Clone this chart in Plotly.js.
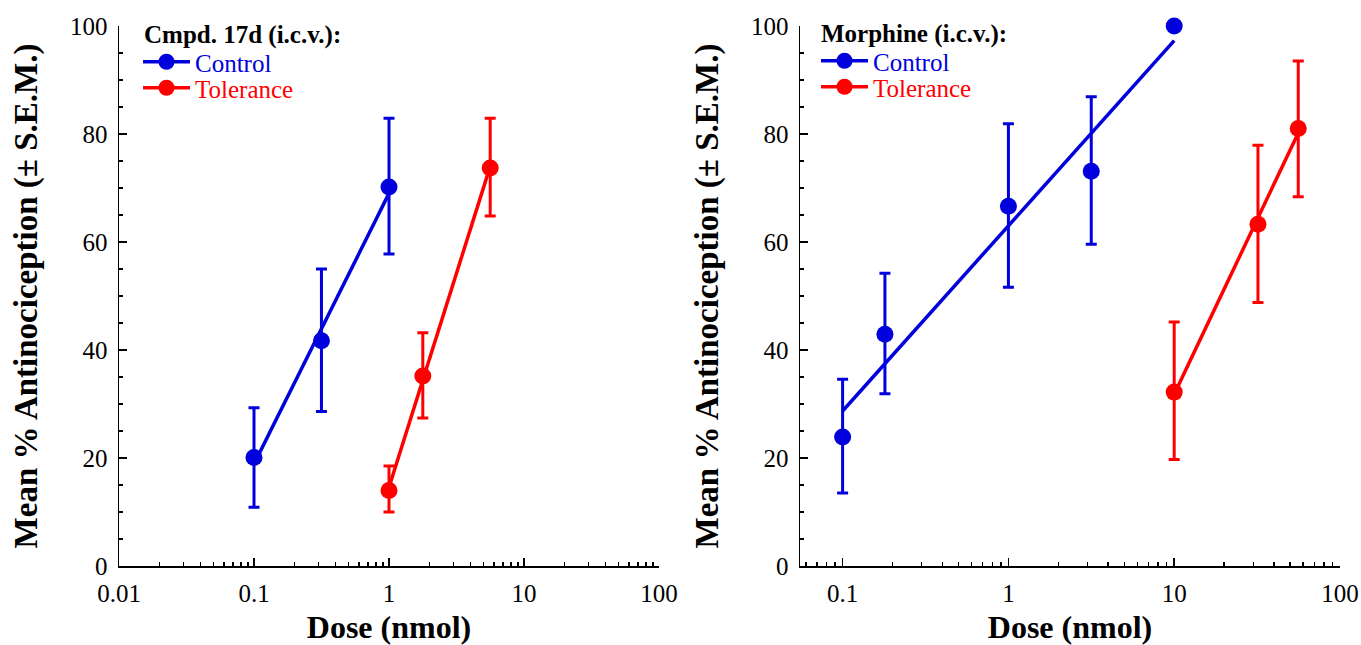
<!DOCTYPE html>
<html>
<head>
<meta charset="utf-8">
<script src="https://cdn.plot.ly/plotly-3.0.1.min.js"></script>
<style>html,body{margin:0;padding:0;background:#fff;}</style>
</head>
<body>
<div id="chart" style="width:1361px;height:645px;"></div>
<script>
// ---- Left panel: Cmpd. 17d (i.c.v.) ----
const cmpdControlDose = [0.1, 0.316, 1];
const cmpdControlMean = [20.1, 41.7, 70.2];
const cmpdControlErrPlus = [9.2, 13.3, 12.7];
const cmpdControlErrMinus = [9.2, 13.1, 12.4];
const cmpdControlFitDose = [0.1, 1];
const cmpdControlFitValue = [18.9, 69.0];

const cmpdTolDose = [1, 1.78, 5.62];
const cmpdTolMean = [14.0, 35.2, 73.7];
const cmpdTolErrPlus = [4.5, 8.0, 9.2];
const cmpdTolErrMinus = [4.0, 7.8, 8.9];
const cmpdTolFitDose = [1, 5.62];
const cmpdTolFitValue = [14.6, 74.0];

// ---- Right panel: Morphine (i.c.v.) ----
const morControlDose = [0.1, 0.18, 1, 3.16, 10];
const morControlMean = [23.9, 42.9, 66.6, 73.1, 100];
const morControlErrPlus = [10.7, 11.3, 15.3, 13.8, 0];
const morControlErrMinus = [10.4, 11.0, 15.0, 13.5, 0];
const morControlFitDose = [0.1, 10];
const morControlFitValue = [28.7, 97.3];

const morTolDose = [10, 32, 56];
const morTolMean = [32.2, 63.3, 81.0];
const morTolErrPlus = [13.0, 14.6, 12.5];
const morTolErrMinus = [12.5, 14.5, 12.6];
const morTolFitDose = [10, 56];
const morTolFitValue = [31.8, 80.2];

// ---- Tick labels / texts ----
const leftTickVals = [0.01, 0.1, 1, 10, 100];
const leftTickText = ['0.01', '0.1', '1', '10', '100'];
const rightTickVals = [0.1, 1, 10, 100];
const rightTickText = ['0.1', '1', '10', '100'];
const panelTitles = ['Cmpd. 17d (i.c.v.):', 'Morphine (i.c.v.):'];
const seriesNames = ['Control', 'Tolerance'];

const BLUE = '#0000DD';
const RED = '#FF0000';
const FONT = 'Liberation Serif, Times New Roman, serif';

function minorLogTicks(lo, hi) {
  const out = [];
  for (let d = Math.floor(Math.log10(lo)); d < Math.ceil(Math.log10(hi)); d++) {
    for (let k = 2; k <= 9; k++) {
      const v = k * Math.pow(10, d);
      if (v >= lo && v <= hi) out.push(v);
    }
  }
  return out;
}

function pts(x, y, ep, em, color, xa, ya) {
  return {
    x: x, y: y, xaxis: xa, yaxis: ya, type: 'scatter', mode: 'markers',
    marker: {color: color, size: 17, symbol: 'circle'},
    error_y: {type: 'data', symmetric: false, array: ep, arrayminus: em,
              color: color, thickness: 3, width: 5.5},
    cliponaxis: false,
    showlegend: false, hoverinfo: 'x+y'
  };
}
function fit(x, y, color, xa, ya) {
  return {x: x, y: y, xaxis: xa, yaxis: ya, type: 'scatter', mode: 'lines',
          line: {color: color, width: 3.5}, showlegend: false, hoverinfo: 'skip'};
}
function legItem(name, color, xa, ya, legend) {
  return {x: [null], y: [null], xaxis: xa, yaxis: ya, type: 'scatter',
          mode: 'lines+markers', name: '<span style="color:' + color + '">' + name + '</span>',
          line: {color: color, width: 3.5}, marker: {color: color, size: 17},
          legend: legend, showlegend: true};
}

const traces = [
  fit(cmpdControlFitDose, cmpdControlFitValue, BLUE, 'x', 'y'),
  fit(cmpdTolFitDose, cmpdTolFitValue, RED, 'x', 'y'),
  pts(cmpdControlDose, cmpdControlMean, cmpdControlErrPlus, cmpdControlErrMinus, BLUE, 'x', 'y'),
  pts(cmpdTolDose, cmpdTolMean, cmpdTolErrPlus, cmpdTolErrMinus, RED, 'x', 'y'),
  legItem(seriesNames[0], BLUE, 'x', 'y', 'legend'),
  legItem(seriesNames[1], RED, 'x', 'y', 'legend2'),

  fit(morControlFitDose, morControlFitValue, BLUE, 'x2', 'y2'),
  fit(morTolFitDose, morTolFitValue, RED, 'x2', 'y2'),
  pts(morControlDose, morControlMean, morControlErrPlus, morControlErrMinus, BLUE, 'x2', 'y2'),
  pts(morTolDose, morTolMean, morTolErrPlus, morTolErrMinus, RED, 'x2', 'y2'),
  legItem(seriesNames[0], BLUE, 'x2', 'y2', 'legend3'),
  legItem(seriesNames[1], RED, 'x2', 'y2', 'legend4')
];

function xAxis(domain, range, tv, tt, minorVals, anchor) {
  return {
    type: 'log', domain: domain, range: range, anchor: anchor,
    tickvals: tv, ticktext: tt, ticks: 'inside', ticklen: 8, tickwidth: 1.5,
    tickcolor: '#000', showline: true, linecolor: '#000', linewidth: 1.5,
    showgrid: false, zeroline: false, mirror: false,
    tickfont: {family: FONT, size: 25, color: '#000'},
    ticklabelstandoff: 4,
    minor: {tickvals: minorVals, ticks: 'inside', ticklen: 4, tickwidth: 1.5, tickcolor: '#000', showgrid: false},
    title: {text: 'Dose (nmol)', font: {family: FONT, size: 32, color: '#000', weight: 'bold'}, standoff: 11}
  };
}
function yAxis(domain, anchor) {
  return {
    domain: domain, range: [0, 100], anchor: anchor, dtick: 20, tick0: 0,
    ticks: 'inside', ticklen: 8, tickwidth: 1.5, tickcolor: '#000',
    showline: true, linecolor: '#000', linewidth: 1.5, showgrid: false, zeroline: false,
    tickfont: {family: FONT, size: 25, color: '#000'},
    ticklabelstandoff: 5,
    minor: {dtick: 5, ticks: 'inside', ticklen: 4, tickwidth: 1.5, tickcolor: '#000', showgrid: false},
    title: {text: 'Mean % Antinociception (± S.E.M.)', font: {family: FONT, size: 33, color: '#000', weight: 'bold'}, standoff: 22}
  };
}

function legendAt(xpx, ypx) {
  return {
    x: xpx / 1361, y: 1 - ypx / 645, xanchor: 'left', yanchor: 'middle',
    bgcolor: 'rgba(0,0,0,0)', borderwidth: 0, itemwidth: 47,
    font: {family: FONT, size: 25}, itemsizing: 'trace'
  };
}

const yDom = [1 - 566 / 645, 1 - 26 / 645];
const layout = {
  width: 1361, height: 645,
  margin: {l: 0, r: 0, t: 0, b: 0},
  paper_bgcolor: '#fff', plot_bgcolor: '#fff',
  font: {family: FONT, color: '#000'},
  xaxis: xAxis([119 / 1361, 659 / 1361], [-2, 2], leftTickVals, leftTickText, minorLogTicks(0.01, 100), 'y'),
  yaxis: yAxis(yDom, 'x'),
  xaxis2: xAxis([800 / 1361, 1340 / 1361], [-1.257, 2], rightTickVals, rightTickText, minorLogTicks(0.055, 100), 'y2'),
  yaxis2: yAxis(yDom, 'x2'),
  legend: legendAt(138, 62),
  legend2: legendAt(138, 88),
  legend3: legendAt(816, 61),
  legend4: legendAt(816, 87),
  annotations: [
    {xref: 'paper', yref: 'paper', x: 142 / 1361, y: 1 - 35 / 645, xanchor: 'left', yanchor: 'middle',
     text: panelTitles[0], showarrow: false, font: {family: FONT, size: 25, color: '#000', weight: 'bold'}},
    {xref: 'paper', yref: 'paper', x: 819 / 1361, y: 1 - 34 / 645, xanchor: 'left', yanchor: 'middle',
     text: panelTitles[1], showarrow: false, font: {family: FONT, size: 25, color: '#000', weight: 'bold'}}
  ]
};

Plotly.newPlot('chart', traces, layout, {displayModeBar: false, staticPlot: true});
</script>
</body>
</html>
